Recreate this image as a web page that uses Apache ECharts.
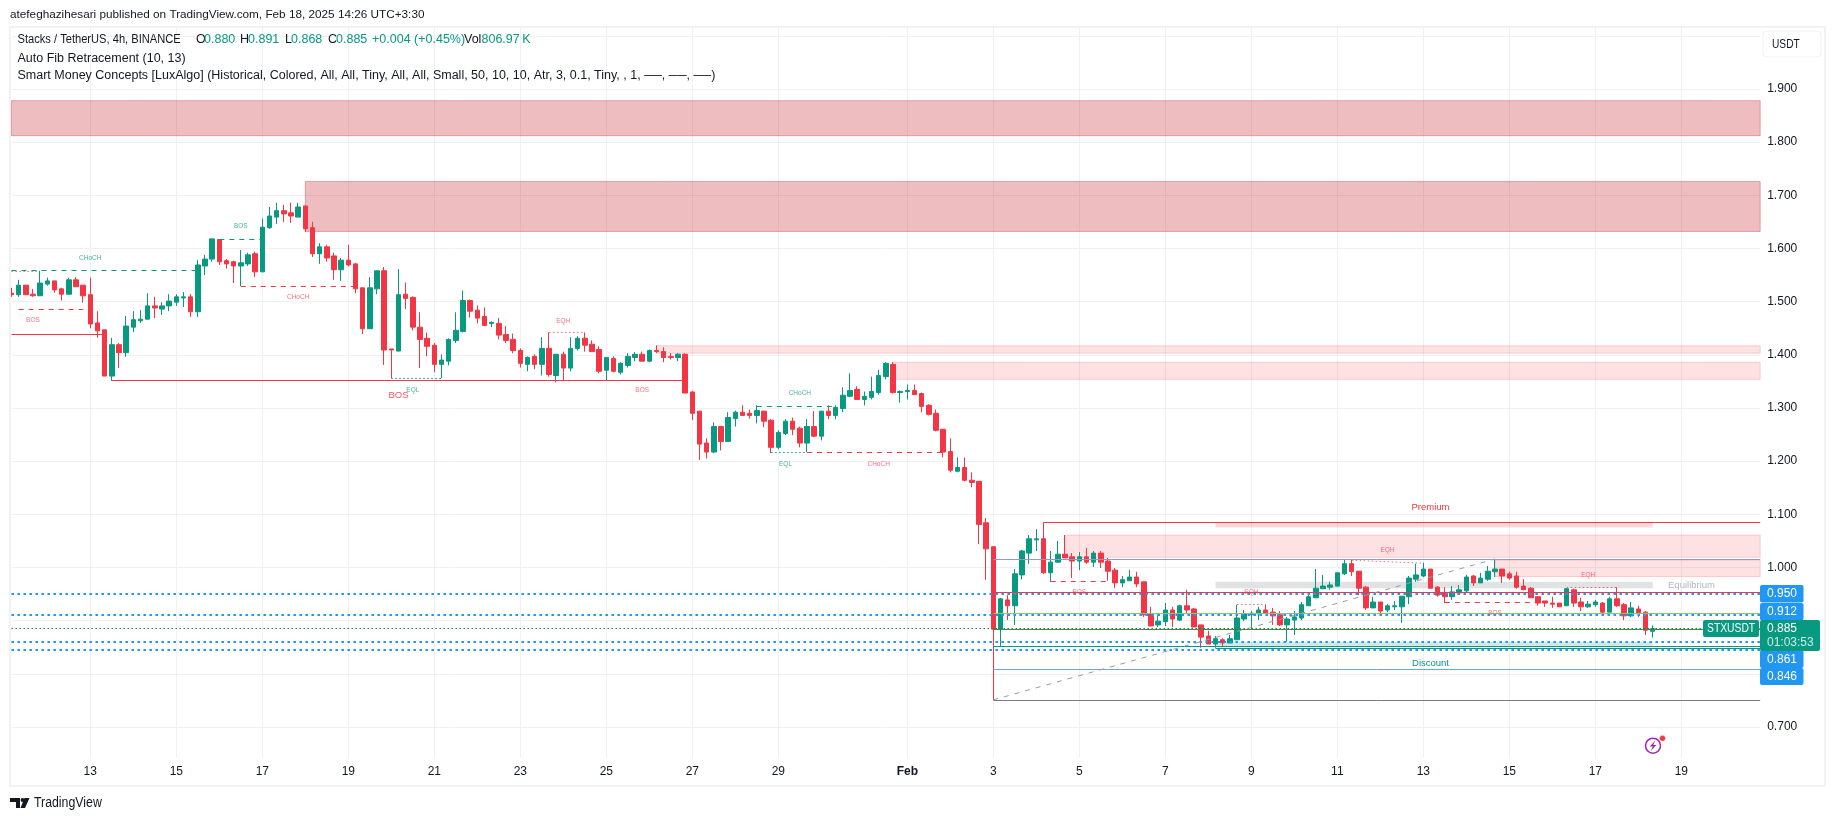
<!DOCTYPE html>
<html><head><meta charset="utf-8">
<style>html,body{margin:0;padding:0;background:#fff}#c{width:1835px;height:821px}</style>
<script src="https://cdn.jsdelivr.net/npm/echarts@6/dist/echarts.min.js"></script>
</head><body><div id="c"></div>
<script>
// ---- candles: [open, close, low, high], one row every 4 hours
const candlesA = [[1.516,1.513,1.509,1.526],[1.513,1.531,1.509,1.541],[1.531,1.513,1.513,1.531],[1.514,1.511,1.509,1.524],[1.511,1.535,1.511,1.558],[1.533,1.539,1.530,1.545],[1.539,1.522,1.517,1.539],[1.524,1.514,1.502,1.526],[1.514,1.541,1.513,1.545],[1.541,1.528,1.528,1.546],[1.531,1.511,1.498,1.531],[1.513,1.458,1.450,1.545],[1.460,1.445,1.432,1.482],[1.447,1.360,1.360,1.447],[1.360,1.419,1.351,1.432],[1.419,1.404,1.375,1.422],[1.404,1.454,1.396,1.473],[1.452,1.466,1.443,1.482],[1.464,1.467,1.460,1.484],[1.467,1.492,1.467,1.516],[1.492,1.488,1.469,1.509],[1.486,1.492,1.475,1.499],[1.492,1.501,1.482,1.514],[1.499,1.509,1.492,1.514],[1.507,1.509,1.490,1.518],[1.509,1.481,1.471,1.514],[1.481,1.569,1.471,1.578],[1.567,1.580,1.550,1.588],[1.580,1.618,1.575,1.618],[1.617,1.575,1.569,1.617],[1.577,1.571,1.562,1.580],[1.575,1.567,1.535,1.577],[1.567,1.573,1.529,1.597],[1.571,1.588,1.567,1.592],[1.590,1.556,1.546,1.594],[1.556,1.640,1.556,1.656],[1.639,1.661,1.637,1.678],[1.659,1.671,1.646,1.686],[1.671,1.665,1.650,1.682],[1.667,1.661,1.648,1.686],[1.659,1.678,1.659,1.686],[1.680,1.637,1.631,1.680],[1.639,1.590,1.584,1.650],[1.590,1.603,1.571,1.610],[1.603,1.582,1.575,1.607],[1.586,1.560,1.541,1.592],[1.560,1.578,1.539,1.582],[1.578,1.569,1.566,1.607],[1.571,1.524,1.516,1.573],[1.526,1.449,1.439,1.526],[1.449,1.526,1.449,1.546],[1.524,1.558,1.514,1.558],[1.558,1.409,1.381,1.565],[1.411,1.409,1.356,1.411],[1.407,1.513,1.407,1.561]];
const candlesB = [[1.514,1.506,1.486,1.536],[1.508,1.452,1.446,1.510],[1.452,1.429,1.375,1.480],[1.431,1.416,1.397,1.442],[1.418,1.382,1.367,1.422],[1.382,1.390,1.356,1.401],[1.388,1.429,1.380,1.431],[1.427,1.446,1.422,1.480],[1.444,1.502,1.442,1.521],[1.502,1.482,1.470,1.504],[1.484,1.469,1.459,1.493],[1.472,1.455,1.455,1.489],[1.459,1.461,1.452,1.463],[1.459,1.437,1.429,1.469],[1.438,1.427,1.422,1.454],[1.429,1.408,1.403,1.440],[1.408,1.384,1.376,1.412],[1.382,1.395,1.369,1.397],[1.397,1.382,1.373,1.401],[1.382,1.412,1.361,1.433],[1.412,1.363,1.359,1.442],[1.361,1.401,1.348,1.401],[1.401,1.375,1.351,1.406],[1.375,1.412,1.369,1.433],[1.412,1.431,1.408,1.435],[1.431,1.418,1.406,1.442],[1.420,1.406,1.406,1.427],[1.410,1.369,1.365,1.416],[1.371,1.395,1.352,1.395],[1.393,1.369,1.367,1.397],[1.367,1.384,1.363,1.386],[1.380,1.397,1.376,1.403],[1.395,1.401,1.388,1.405],[1.401,1.388,1.388,1.406],[1.388,1.408,1.386,1.410],[1.408,1.406,1.403,1.418],[1.406,1.395,1.386,1.414],[1.397,1.395,1.391,1.403],[1.395,1.401,1.388,1.403]];
const candlesC = [[1.401,1.328,1.328,1.403],[1.330,1.290,1.277,1.332],[1.294,1.232,1.202,1.294],[1.234,1.217,1.205,1.243],[1.217,1.265,1.215,1.273],[1.265,1.237,1.220,1.265],[1.237,1.282,1.237,1.292],[1.280,1.292,1.265,1.295],[1.292,1.286,1.286,1.305],[1.290,1.286,1.280,1.297],[1.286,1.295,1.271,1.305],[1.294,1.275,1.264,1.295],[1.277,1.226,1.215,1.279],[1.226,1.254,1.222,1.258],[1.252,1.275,1.249,1.279],[1.275,1.260,1.249,1.282],[1.262,1.234,1.226,1.265],[1.234,1.265,1.217,1.279],[1.265,1.247,1.245,1.294],[1.247,1.294,1.239,1.294],[1.294,1.286,1.279,1.305],[1.286,1.301,1.279,1.305],[1.299,1.324,1.292,1.339],[1.322,1.333,1.320,1.365],[1.335,1.316,1.316,1.341],[1.316,1.322,1.305,1.331],[1.320,1.331,1.316,1.359],[1.329,1.361,1.325,1.372],[1.359,1.384,1.354,1.386],[1.382,1.329,1.327,1.386],[1.329,1.331,1.310,1.333],[1.331,1.333,1.316,1.344],[1.333,1.325,1.325,1.344],[1.327,1.303,1.292,1.329],[1.305,1.288,1.286,1.307],[1.290,1.258,1.256,1.297],[1.260,1.217,1.207,1.260],[1.218,1.183,1.179,1.243],[1.181,1.188,1.179,1.207],[1.188,1.164,1.162,1.207],[1.164,1.160,1.151,1.179],[1.162,1.081,1.044,1.162]];
const candlesD = [[1.084,1.035,0.977,1.093],[1.039,0.884,0.751,1.039],[0.884,0.941,0.852,0.943],[0.939,0.928,0.901,0.948],[0.928,0.988,0.892,0.997],[0.986,1.031,0.978,1.033],[1.027,1.054,1.007,1.061],[1.052,1.054,1.031,1.072],[1.054,0.990,0.988,1.085],[0.990,1.010,0.973,1.031],[1.010,1.025,1.010,1.050],[1.025,1.018,1.018,1.061],[1.020,1.012,0.980,1.027],[1.012,1.020,0.995,1.029],[1.020,1.010,1.007,1.037],[1.010,1.027,1.001,1.031],[1.027,1.010,0.999,1.031],[1.012,0.993,0.975,1.018],[0.995,0.971,0.961,0.999],[0.971,0.977,0.963,0.984],[0.975,0.982,0.975,0.995],[0.982,0.969,0.963,0.992],[0.973,0.911,0.907,0.973],[0.913,0.890,0.890,0.926],[0.892,0.899,0.888,0.911],[0.898,0.920,0.890,0.933],[0.920,0.903,0.888,0.926],[0.901,0.928,0.899,0.930],[0.928,0.920,0.914,0.958],[0.922,0.888,0.888,0.924],[0.892,0.869,0.849,0.892],[0.871,0.856,0.856,0.881],[0.856,0.866,0.849,0.871],[0.864,0.858,0.851,0.867],[0.858,0.866,0.858,0.873],[0.864,0.905,0.864,0.930],[0.903,0.913,0.899,0.920],[0.911,0.914,0.884,0.918],[0.913,0.920,0.901,0.926],[0.920,0.914,0.914,0.930],[0.916,0.909,0.892,0.924]];
const candlesE = [[0.911,0.892,0.890,0.918],[0.892,0.903,0.860,0.907],[0.901,0.907,0.873,0.918],[0.905,0.930,0.901,0.935],[0.928,0.945,0.928,0.950],[0.943,0.961,0.943,0.997],[0.960,0.965,0.960,0.986],[0.963,0.967,0.958,0.973],[0.965,0.990,0.965,0.990],[0.988,1.007,0.986,1.014],[1.007,0.992,0.984,1.014],[0.993,0.961,0.948,0.993],[0.963,0.924,0.920,0.965],[0.924,0.935,0.924,0.945],[0.935,0.918,0.911,0.935],[0.920,0.928,0.916,0.931],[0.926,0.928,0.920,0.937],[0.926,0.946,0.896,0.946],[0.945,0.980,0.931,0.984],[0.978,0.986,0.973,1.007],[0.984,0.997,0.982,1.009],[0.997,0.961,0.961,0.997],[0.963,0.948,0.945,0.965],[0.952,0.945,0.933,0.963],[0.945,0.954,0.939,0.965],[0.952,0.958,0.952,0.967],[0.956,0.982,0.952,0.986],[0.984,0.971,0.965,0.986],[0.971,0.980,0.971,0.990],[0.978,0.993,0.975,1.003],[0.992,0.997,0.982,1.016],[0.997,0.984,0.971,0.997],[0.988,0.980,0.977,0.992],[0.984,0.963,0.960,0.992],[0.965,0.958,0.958,0.978],[0.961,0.943,0.943,0.963],[0.945,0.933,0.928,0.946],[0.937,0.933,0.926,0.937],[0.933,0.931,0.924,0.945],[0.933,0.926,0.926,0.933],[0.928,0.960,0.928,0.961],[0.958,0.933,0.926,0.960],[0.935,0.926,0.918,0.943],[0.926,0.931,0.924,0.937],[0.930,0.935,0.926,0.939],[0.933,0.916,0.913,0.935],[0.916,0.941,0.916,0.945],[0.941,0.928,0.926,0.963],[0.930,0.909,0.901,0.933],[0.909,0.924,0.907,0.935],[0.922,0.915,0.907,0.928],[0.916,0.882,0.873,0.918],[0.880,0.885,0.868,0.891]];

// ---- axis content
const slotCount = 245;               // candles plus the empty slots on the right
const priceLabels = [0.7,0.8,0.9,1.0,1.1,1.2,1.3,1.4,1.5,1.6,1.7,1.8,1.9];
const priceGrid = [0.7,0.8,0.9,1.0,1.1,1.2,1.3,1.4,1.5,1.6,1.7,1.8,1.9,2.0];
const tickDates = ['01-13','01-15','01-17','01-19','01-21','01-23','01-25','01-27','01-29','02-01','02-03','02-05','02-07','02-09','02-11','02-13','02-15','02-17','02-19'];
const tickTexts = ['13','15','17','19','21','23','25','27','29','Feb','3','5','7','9','11','13','15','17','19'];

// ---- zones: [kind, firstSlot, lastSlot, top, bottom]
const zones = [
 ['strong',0,244,1.878,1.812],['strong',41,244,1.726,1.632],
 ['soft',90,244,1.417,1.403],['soft',123,244,1.386,1.354],
 ['soft',147,244,1.061,1.019],['soft',207,244,1.014,0.983],
 ['premium',168,229,1.084,1.075],['equilibrium',168,229,0.973,0.961],['discount',168,229,0.860,0.852]
];
// ---- segments: [kind, firstSlot, lastSlot, priceStart, priceEnd]
const smcSegments = [
 ['greenDash',0,26,1.559,1.559],['redDot',0,4,1.558,1.558],['redDash',1,10,1.486,1.486],
 ['redSolid',0,13,1.439,1.439],['redSolid',14,94,1.352,1.352],['greenDash',29,35,1.617,1.617],
 ['redDash',32,48,1.529,1.529],['greenDot',53,60,1.356,1.356],['redDot',75,80,1.442,1.442],
 ['redDash',83,94,1.353,1.353],['greenDash',104,115,1.304,1.304],['greenDot',106,111,1.216,1.216],
 ['redDash',111,130,1.216,1.216],['redDash',145,153,0.975,0.975],['redDot',171,175,0.930,0.930],
 ['redDot',187,197,1.0135,1.008],['redDash',200,213,0.9345,0.9345],['redDot',217,224,0.962,0.962]
];
const fibSegments = [
 ['redSolid',144,244,1.085,1.085],['fibPurple',137,244,1.015,1.015],['redSolid',137,244,0.9527,0.9527],
 ['fibOlive',137,244,0.914,0.914],['fibGreen',137,244,0.884,0.884],['teal',137,244,0.852,0.852],
 ['teal',168,244,0.848,0.848],['fibBlue',137,244,0.8085,0.8085],['fibGray',137,244,0.7502,0.7502],
 ['trend',137,207,0.751,1.016]
];
const drawnLevels = [0.950,0.912,0.861,0.846];
const lastPrice = 0.885;
// ---- small texts on the chart: [kind, text, slot, price]
const chartTexts = [
 ['greenTiny','CHoCH',11,1.582],['redTiny','BOS',3,1.465],['greenTiny','BOS',32,1.641],['redTiny','CHoCH',40,1.508],
 ['redBig','BOS',54,1.323],['greenTiny','EQL',56,1.334],['redTiny','EQH',77,1.464],['redTiny','BOS',88,1.3325],
 ['greenTiny','CHoCH',110,1.3286],['greenTiny','EQL',108,1.195],['redTiny','CHoCH',121,1.195],
 ['redTiny','BOS',149,0.953],['redTiny','EQH',173,0.9527],['redTiny','EQH',192,1.0323],['redTiny','BOS',207,0.9132],
 ['redTiny','EQH',220,0.9853],['redZone','Premium',198,1.1138],['grayZone','Equilibrium',234,0.9657],['greenZone','Discount',198,0.8192]
];

const UP='#089981', DOWN='#F23645', INK='#131722', GRID='#f0f0f1', EDGE='#f2f2f3', BLUE='#2196F3';
const FONT='"Liberation Sans",Arial,sans-serif';

const zoneStyles = {
 strong:{color:'rgba(195,35,45,0.3)',borderColor:'rgba(190,40,50,0.35)',borderWidth:1},
 soft:{color:'rgba(242,54,69,0.15)',borderColor:'rgba(242,54,69,0.2)',borderWidth:1},
 premium:{color:'rgba(242,54,69,0.2)'},
 equilibrium:{color:'#e1e2e4'},
 discount:{color:'rgba(8,153,129,0.2)'}
};
const lineStyles = {
 greenDash:{color:UP,type:[5,5],width:1},redDash:{color:DOWN,type:[5,5],width:1},
 redSolid:{color:DOWN,type:'solid',width:1.2},
 greenDot:{color:UP,type:[1.5,2.5],width:1},redDot:{color:'rgba(242,54,69,0.7)',type:[1.5,2.5],width:1},
 fibPurple:{color:'#9598c0',type:'solid',width:1},fibOlive:{color:'#8fc17e',type:'solid',width:1},
 fibGreen:{color:'#388e3c',type:'solid',width:1},teal:{color:UP,type:'solid',width:1.2},
 fibBlue:{color:'#64a8e6',type:'solid',width:1},fibGray:{color:'#787b86',type:'solid',width:1},
 trend:{color:'#9a9ca5',type:[5,6],width:1},
 drawn:{color:BLUE,type:[2.5,3.5],width:2},last:{color:'#2f6f63',type:[1.5,2.5],width:1}
};
const textStyles = {
 greenTiny:{color:'rgba(8,153,129,0.75)',fontSize:6.5},redTiny:{color:'rgba(242,54,69,0.7)',fontSize:6.5},
 redBig:{color:'rgba(242,54,69,0.85)',fontSize:9.5},redZone:{color:DOWN,fontSize:9.5},
 grayZone:{color:'#b2b5be',fontSize:9.5,offset:[3,0]},greenZone:{color:UP,fontSize:9.5}
};

// ---- assemble
const candles=[].concat(candlesA,candlesB,candlesC,candlesD,candlesE);
const categories=[];
for(let i=0;i<slotCount;i++){
 const d=new Date(Date.UTC(2025,0,11,4+4*i));
 const p=n=>String(n).padStart(2,'0');
 categories.push(p(d.getUTCMonth()+1)+'-'+p(d.getUTCDate())+' '+p(d.getUTCHours())+':00');
}
const isTick=(v)=>v.endsWith('00:00')&&tickDates.includes(v.slice(0,5));
const seg=(k,a,b,p,q)=>[{coord:[a,p],lineStyle:lineStyles[k]},{coord:[b,q]}];
const lineData=[].concat(
 drawnLevels.map(v=>seg('drawn',0,244,v,v)),
 [seg('last',0,244,lastPrice,lastPrice)],
 fibSegments.map(r=>seg(...r)),
 smcSegments.map(r=>seg(...r))
);

const chart=echarts.init(document.getElementById('c'),null,{renderer:'canvas',width:1835,height:821});

const txt=(x,y,text,o,sx)=>({type:'text',silent:true,z:50,x:x,y:y,scaleX:sx||1,style:Object.assign({text:text,fill:INK,fontFamily:FONT,fontSize:12.5,textVerticalAlign:'middle',textAlign:'left'},o||{})});
const rect=(x,y,w,h,fill,r)=>({type:'rect',silent:true,z:40,shape:{x:x,y:y,width:w,height:h,r:r||0},style:{fill:fill}});
const tag=(y0,h,label,cy)=>[rect(1760,y0,43.5,h,BLUE,2),txt(1767,cy,label,{fill:'#fff',fontSize:12})];

chart.setOption({
 animation:false,
 backgroundColor:'#fff',
 textStyle:{fontFamily:FONT},
 grid:{left:11.46,right:74.8,top:26,bottom:63.4,containLabel:false},
 xAxis:{type:'category',data:categories,boundaryGap:false,
  axisLine:{show:false},axisTick:{show:false},
  splitLine:{show:true,interval:(i,v)=>isTick(v),lineStyle:{color:GRID,width:1}},
  axisLabel:{interval:(i,v)=>isTick(v),color:INK,fontSize:12,fontFamily:FONT,margin:8,
   formatter:v=>{const t=tickTexts[tickDates.indexOf(v.slice(0,5))];return t==='Feb'?'{b|Feb}':t;},
   rich:{b:{fontWeight:'bold',fontSize:12,color:INK,fontFamily:FONT}}}},
 yAxis:{type:'value',position:'right',min:0.6424,max:2.0184,scale:true,
  axisLine:{show:false},
  axisTick:{show:false,customValues:priceGrid},
  splitLine:{show:true,lineStyle:{color:GRID,width:1}},
  axisLabel:{customValues:priceLabels,color:INK,fontSize:12,fontFamily:FONT,margin:7,align:'left',formatter:v=>v.toFixed(3)}},
 series:[{type:'candlestick',data:candles,barWidth:5,clip:false,silent:true,
  itemStyle:{color:UP,color0:DOWN,borderColor:UP,borderColor0:DOWN,borderWidth:1},
  markArea:{silent:true,z:1,data:zones.map(z=>[{coord:[z[1],z[3]],itemStyle:zoneStyles[z[0]]},{coord:[z[2],z[4]]}])},
  markLine:{silent:true,animation:false,symbol:['none','none'],label:{show:false},data:lineData},
  markPoint:{silent:true,animation:false,symbol:'circle',symbolSize:1,itemStyle:{color:'rgba(0,0,0,0)'},
   data:chartTexts.map(t=>({coord:[t[2],t[3]],label:Object.assign({show:true,position:'inside',formatter:t[1],fontFamily:FONT},textStyles[t[0]])}))}
 }],
 graphic:{elements:[].concat(
  // frame
  [rect(9,26,2,761,EDGE),rect(9,26,1817,2,EDGE),rect(9,785,1817,2,EDGE),rect(1824,26,2,761,EDGE)],
  // publication line
  [txt(10,15,'atefeghazihesari published on TradingView.com, Feb 18, 2025 14:26 UTC+3:30',{fontSize:11.75})],
  // legend
  [txt(17.5,40,'Stacks / TetherUS, 4h, BINANCE',null,0.89),
   txt(196,40,'O'),txt(204,40,'0.880',{fill:UP}),txt(240,40,'H'),txt(248,40,'0.891',{fill:UP}),
   txt(285,40,'L'),txt(291,40,'0.868',{fill:UP}),txt(328,40,'C'),txt(336,40,'0.885',{fill:UP}),
   txt(372,40,'+0.004 (+0.45%)',{fill:UP}),txt(464,40,'Vol'),txt(481.5,40,'806.97\u2009K',{fill:UP}),
   txt(17.5,58.5,'Auto Fib Retracement (10, 13)'),
   txt(17.5,76,'Smart Money Concepts [LuxAlgo] (Historical, Colored, All, All, Tiny, All, All, Small, 50, 10, 10, Atr, 3, 0.1, Tiny, , 1, \u2500\u2500, \u2500\u2500, \u2500\u2500)')],
  // currency button
  [{type:'rect',silent:true,z:40,shape:{x:1763,y:31,width:58,height:26,r:4},style:{fill:'#fff',stroke:EDGE,lineWidth:1}},
   txt(1772,44.5,'USDT',{fontSize:12},0.85)],
  // price tags
  tag(585,17.5,'0.950',593.5),tag(603,17.5,'0.912',611.5),tag(650,18,'0.861',659.5),tag(668,17,'0.846',676.5),
  [rect(1760,620,60,31,UP,2),txt(1767,628.5,'0.885',{fill:'#fff',fontSize:12}),txt(1767,643,'01:03:53',{fill:'rgba(255,255,255,0.8)',fontSize:12}),
   rect(1703,620,56,17,UP,2),txt(1707,628.5,'STXUSDT',{fill:'#fff',fontSize:12},0.86)],
  // flash icon
  [{type:'circle',silent:true,z:40,shape:{cx:1653,cy:745.7,r:7.5},style:{fill:'none',stroke:'#9c27b0',lineWidth:1.5}},
   {type:'polygon',silent:true,z:41,shape:{points:[[1655.3,740.5],[1649.8,746.5],[1652.8,746.5],[1650.8,751],[1656.3,745],[1653.3,745]]},style:{fill:'#9c27b0'}},
   {type:'circle',silent:true,z:42,shape:{cx:1662.5,cy:738.3,r:3},style:{fill:'#f23645',stroke:'#fff',lineWidth:0.5}}],
  // brand
  [{type:'polygon',silent:true,z:40,shape:{points:[[10,798],[20,798],[20,808],[16,808],[16,802],[10,802]]},style:{fill:INK}},
   {type:'circle',silent:true,z:40,shape:{cx:22.5,cy:800,r:1.9},style:{fill:INK}},
   {type:'polygon',silent:true,z:40,shape:{points:[[24.5,798],[29.5,798],[25,808],[20.5,808]]},style:{fill:INK}},
   txt(34,803.5,'TradingView',{fontSize:14},0.88)]
 )}
});
</script></body></html>
